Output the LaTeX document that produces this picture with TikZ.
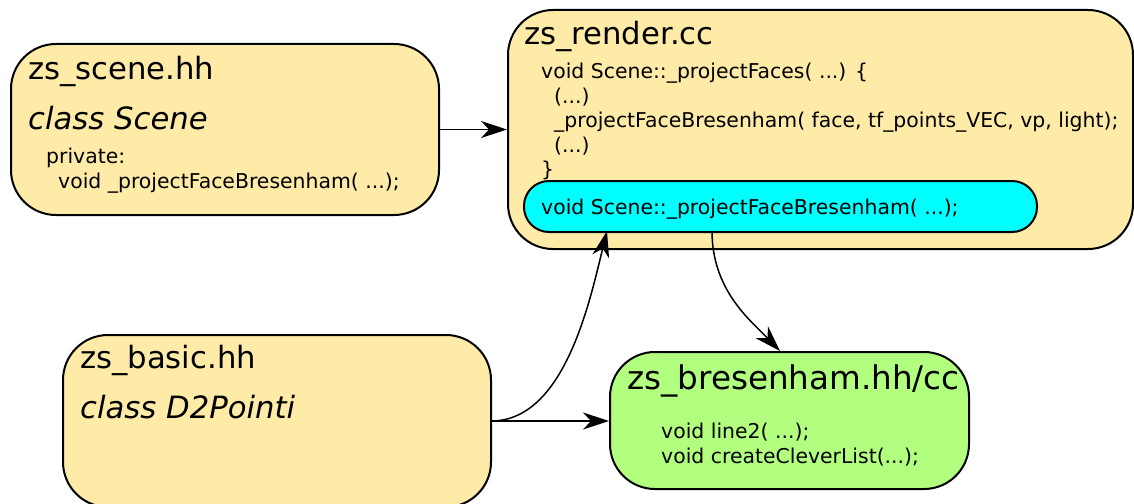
\documentclass[tikz,border=0pt]{standalone}
\usepackage{fontspec}
\setmainfont{DejaVu Sans}
\usetikzlibrary{positioning,arrows.meta}

\definecolor{fileyellow}{RGB}{255,235,168}
\definecolor{implgreen}{RGB}{178,255,128}
\definecolor{methcyan}{RGB}{0,255,255}

\tikzset{
  filebox/.style={draw, line width=2pt, rounded corners=45pt, anchor=north west, inner sep=0pt},
  titletxt/.style={anchor=base west, inner sep=0pt, font=\fontsize{30.7}{36}\selectfont},
  classtxt/.style={titletxt, font=\fontsize{30.7}{36}\selectfont\itshape},
  codetxt/.style={anchor=north west, inner sep=0pt, align=left, font=\fontsize{20.4}{24.5}\selectfont},
  conn/.style={line width=1.5pt, -{Stealth[length=26pt, width=17pt, inset=8pt]}}
}

\begin{document}
\begin{tikzpicture}[x=1pt, y=-1pt]
\useasboundingbox (0,0) rectangle (1134,503);

% header files
\node[filebox, fill=fileyellow, minimum width=428pt, minimum height=171pt] (scene) at (10,43) {};
\node[titletxt] (scenename) at (28,79) {zs\_scene.hh};
\node[classtxt] (sceneclass) at (28,129) {class Scene};
\node[codetxt] (scenecode) at (46,148) {private:\\\hspace{12pt}void \_projectFaceBresenham( ...);};

\node[filebox, fill=fileyellow, minimum width=428pt, minimum height=172pt] (basic) at (62,334) {};
\node[titletxt] (basicname) at (80,368) {zs\_basic.hh};
\node[classtxt] (basicclass) at (80,418) {class D2Pointi};

% implementation
\node[filebox, fill=fileyellow, minimum width=625pt, minimum height=239pt] (render) at (507,9) {};
\node[titletxt] (rendername) at (524,45) {zs\_render.cc};
\node[codetxt] (rendercode) at (541,63) {void Scene::\_projectFaces( ...) \{\\
\hspace{13pt}(...)\\
\hspace{13pt}\_projectFaceBresenham( face, tf\_points\_VEC, vp, light);\\
\hspace{13pt}(...)\\
\}};
\node[filebox, fill=methcyan, rounded corners=25pt, minimum width=513pt, minimum height=51pt] (method) at (523,180) {};
\node[titletxt, font=\fontsize{20.4}{24}\selectfont] (methodcode) at (541,214) {void Scene::\_projectFaceBresenham( ...);};

\node[filebox, fill=implgreen, minimum width=359pt, minimum height=137pt] (bres) at (609,351) {};
\node[titletxt, font=\fontsize{32.6}{38}\selectfont] (bresname) at (627,389) {zs\_bresenham.hh/cc};
\node[codetxt] (brescode) at (661,423) {void line2( ...);\\void createCleverList(...);};

% dependencies
\coordinate (methin) at (607,231);
\coordinate (methout) at (712,231);
\draw[conn] (scene.east) -- (scene.east -| render.west);
\draw[conn] (basic.east) -- (basic.east -| bres.west);
\draw[conn] (basic.east) .. controls (565,420) and (590,300) .. (methin);
\draw[conn] (methout) .. controls (712,290) and (750,320) .. (780,351);
\end{tikzpicture}
\end{document}
